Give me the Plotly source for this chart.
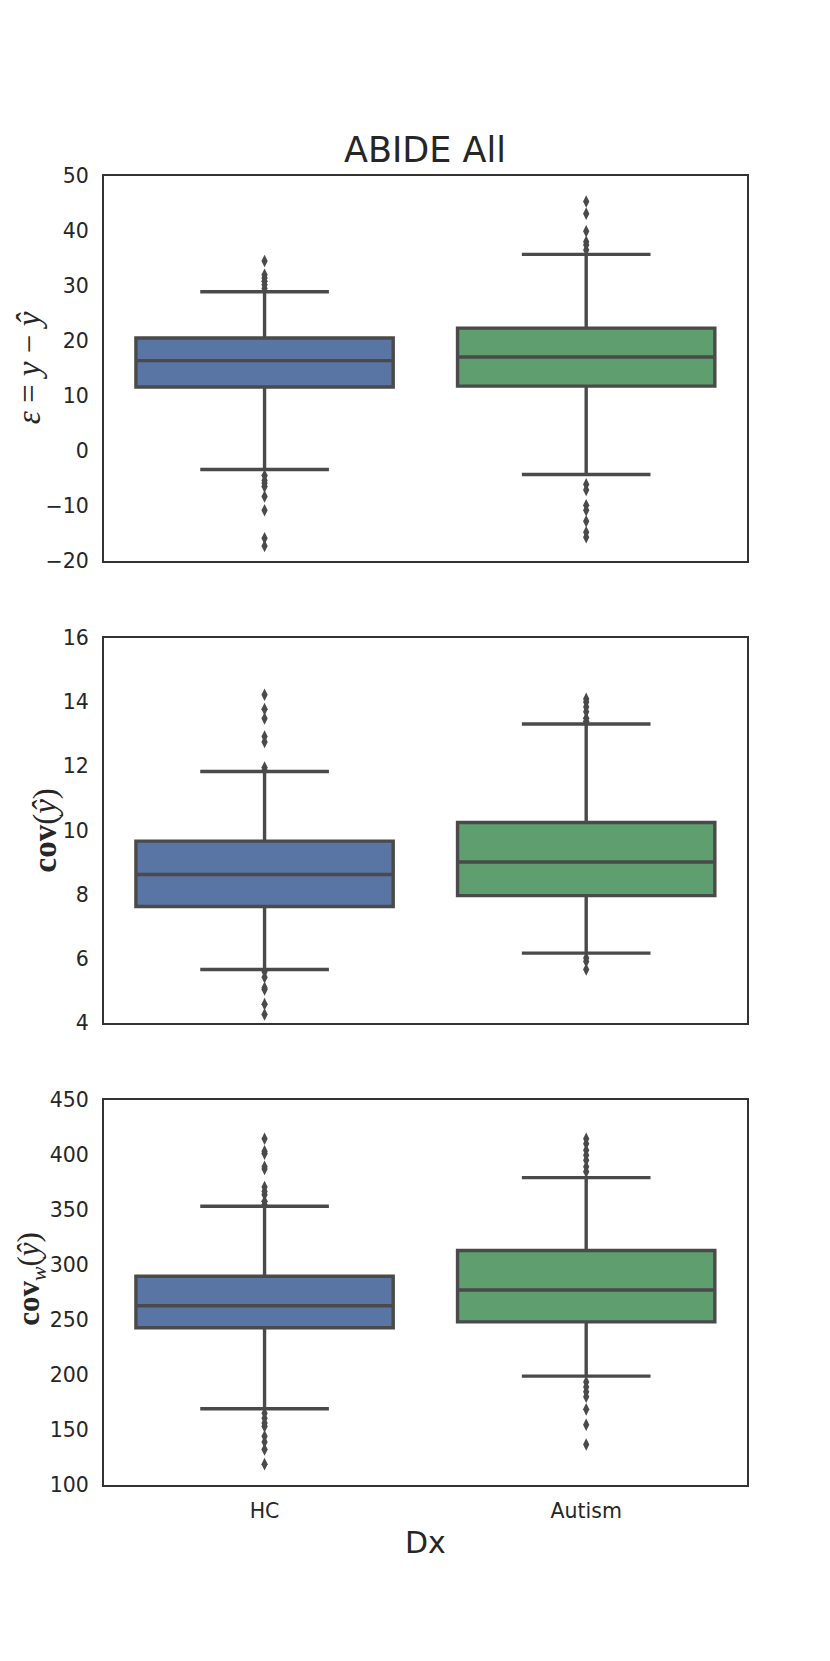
import plotly.graph_objects as go

categories = ["HC", "Autism"]
box_colors = ["#5875a4", "#5f9e6e"]

# Panel 1: epsilon = y - y_hat
p1_q1 = [11.6, 11.75]
p1_median = [16.4, 17.05]
p1_q3 = [20.5, 22.3]
p1_lower = [-3.4, -4.3]
p1_upper = [28.9, 35.7]
p1_out_hc = [34.5, 32.0, 31.4, 30.8, 30.2, 29.5, -4.5, -5.4, -5.9, -6.5, -8.3, -10.8, -15.9, -17.3]
p1_out_aut = [45.3, 43.1, 39.9, 38.0, 37.4, 36.5, -6.1, -7.1, -9.9, -10.8, -12.8, -14.8, -15.7]

# Panel 2: cov(y_hat)
p2_q1 = [7.63, 7.97]
p2_median = [8.63, 9.02]
p2_q3 = [9.67, 10.25]
p2_lower = [5.67, 6.18]
p2_upper = [11.84, 13.32]
p2_out_hc = [14.23, 13.78, 13.49, 12.93, 12.76, 11.96, 11.88, 5.6, 5.43, 5.1, 5.05, 4.59, 4.27]
p2_out_aut = [14.1, 14.0, 13.85, 13.7, 13.5, 13.4, 6.03, 5.92, 5.67]

# Panel 3: cov_w(y_hat)
p3_q1 = [243.1, 248.5]
p3_median = [263.1, 277.4]
p3_q3 = [290.0, 313.3]
p3_lower = [169.6, 199.2]
p3_upper = [353.6, 379.6]
p3_out_hc = [414.9, 403.5, 401.4, 389.4, 387.4, 371, 367, 364, 358, 355,
             165.4, 160.9, 156.5, 153.5, 144.5, 139.4, 132.6, 119.2]
p3_out_aut = [414.9, 410.4, 404.4, 399.9, 395.4, 389.4, 385,
              193.8, 189.3, 184.9, 180.4, 169, 155, 137.1]

y_ranges = [[-20, 50], [4, 16], [100, 450]]
y_dticks = [10, 2, 50]
y_titles = ["<i>ε</i> = <i>y</i> − <i>ŷ</i>",
            "<b>cov</b>(<i>ŷ</i>)",
            "<b>cov</b><sub><i>w</i></sub>(<i>ŷ</i>)"]
x_title = "Dx"
title = "ABIDE All"

LINE = "#4a4a4a"
FRAME = "#333333"
TICKC = "#262626"
FONT = "DejaVu Sans"

panels = [
    (p1_q1, p1_median, p1_q3, p1_lower, p1_upper, [p1_out_hc, p1_out_aut]),
    (p2_q1, p2_median, p2_q3, p2_lower, p2_upper, [p2_out_hc, p2_out_aut]),
    (p3_q1, p3_median, p3_q3, p3_lower, p3_upper, [p3_out_hc, p3_out_aut]),
]

fig = go.Figure()
h = 0.8 / 3.4
gap = 0.2 * h
domains = [[0.9 - h, 0.9], [0.9 - 2 * h - gap, 0.9 - h - gap], [0.1, 0.1 + h]]

for pi, (q1, med, q3, lo, up, outs) in enumerate(panels):
    xa = "x" if pi == 0 else f"x{pi+1}"
    ya = "y" if pi == 0 else f"y{pi+1}"
    for ci, cat in enumerate(categories):
        fig.add_trace(go.Box(
            x=[cat], q1=[q1[ci]], median=[med[ci]], q3=[q3[ci]],
            lowerfence=[lo[ci]], upperfence=[up[ci]], width=0.8,
            fillcolor=box_colors[ci], line=dict(color=LINE, width=3.4),
            whiskerwidth=0.5, boxpoints=False, showlegend=False,
            hoverinfo="skip", xaxis=xa, yaxis=ya,
        ))
        fig.add_trace(go.Scatter(
            x=[cat] * len(outs[ci]), y=outs[ci], mode="markers",
            marker=dict(symbol="diamond-tall", size=9, color=LINE, line=dict(width=0)),
            showlegend=False, hoverinfo="skip", xaxis=xa, yaxis=ya,
        ))

layout = dict(
    width=830, height=1661,
    margin=dict(l=0, r=0, t=0, b=0),
    paper_bgcolor="white", plot_bgcolor="white",
    boxmode="overlay",
    font=dict(family=FONT, size=20, color=TICKC),
    showlegend=False,
)
for pi in range(3):
    sfx = "" if pi == 0 else str(pi + 1)
    layout["xaxis" + sfx] = dict(
        domain=[0.125, 0.9], anchor="y" + sfx, type="category",
        categoryorder="array", categoryarray=categories, range=[-0.5, 1.5],
        showline=True, mirror=True, linecolor=FRAME, linewidth=1.6,
        showgrid=False, zeroline=False, ticks="outside", ticklen=6,
        tickcolor="rgba(0,0,0,0)", showticklabels=(pi == 2),
        tickfont=dict(family=FONT, size=20.5, color=TICKC),
        matches="x" if pi > 0 else None,
    )
    layout["yaxis" + sfx] = dict(
        domain=domains[pi], anchor="x" + sfx, range=y_ranges[pi], dtick=y_dticks[pi],
        showline=True, mirror=True, linecolor=FRAME, linewidth=1.6,
        showgrid=False, zeroline=False, ticks="outside", ticklen=9,
        tickcolor="rgba(0,0,0,0)",
        tickfont=dict(family=FONT, size=20.5, color=TICKC),
    )
layout["xaxis3"]["title"] = dict(text=x_title, font=dict(family=FONT, size=30, color=TICKC), standoff=10)
fig.update_layout(**layout)

ann_x = [29 / 830, 45 / 830, 31 / 830]
ann_dy = [0, 0, 14]
ann_size = [33, 33, 31]
for pi in range(3):
    fig.add_annotation(
        text=y_titles[pi], xref="paper", yref="paper",
        x=ann_x[pi], y=(domains[pi][0] + domains[pi][1]) / 2, yshift=ann_dy[pi],
        xanchor="center", yanchor="middle", textangle=-90, showarrow=False,
        font=dict(family="Liberation Serif", size=ann_size[pi], color=TICKC),
    )
fig.add_annotation(
    text=title, xref="paper", yref="paper", x=0.5125, y=0.9, yshift=4,
    xanchor="center", yanchor="bottom", showarrow=False,
    font=dict(family=FONT, size=35, color=TICKC),
)

fig.write_html("out.html", config={"displayModeBar": False},
               post_script="document.body.style.margin='0';")
